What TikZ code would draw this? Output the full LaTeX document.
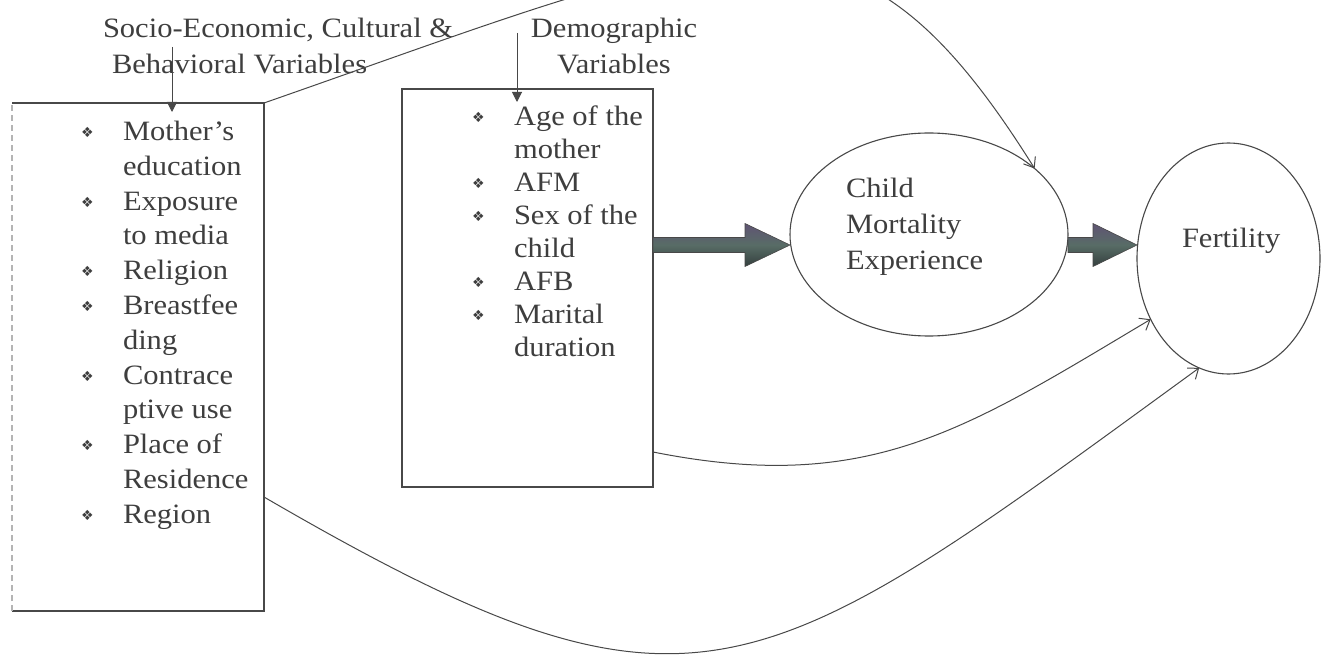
\documentclass[tikz,border=0pt]{standalone}
\usepackage{fontspec}
\setmainfont{Liberation Serif}[FakeStretch=1.09]
\newfontfamily\symf{DejaVu Sans}
\usetikzlibrary{arrows.meta,shapes.geometric,calc}
\definecolor{ink}{RGB}{62,62,62}
\definecolor{edge}{RGB}{72,72,72}
\definecolor{faint}{RGB}{180,180,180}
\definecolor{shtop}{RGB}{96,84,116}
\definecolor{shmid}{RGB}{88,108,102}
\definecolor{shbot}{RGB}{52,64,62}
\newcommand\myitem{\makebox[42pt][l]{\raisebox{3pt}{\symf\fontsize{14}{14}\selectfont ❖}}}
\newcommand\mycont{\hspace*{42pt}}
\begin{document}
\begin{tikzpicture}[x=1pt,y=-1pt,
  every node/.style={inner sep=0pt, outer sep=0pt, text=ink},
  txt/.style={font=\fontsize{28}{36}\selectfont, align=left},
  listA/.style={font=\fontsize{28}{34.8}\selectfont, align=left, anchor=north west},
  listB/.style={font=\fontsize{28}{33}\selectfont, align=left, anchor=north west},
  boxline/.style={draw=edge, line width=1.1pt},
  link/.style={draw=edge, line width=1pt, -{Straight Barb[length=9pt,width=14pt]}},
  headarrow/.style={draw=edge, line width=1pt, -{Triangle[length=10pt,width=10pt]}},
  bigarrow/.style={draw=edge, line width=0.6pt, top color=shtop, bottom color=shbot, middle color=shmid}
]
\useasboundingbox (0,0) rectangle (1328,660);
\clip (0,0) rectangle (1328,660);
\fill[white] (0,0) rectangle (1328,660);

% boxes
\node[draw=none, minimum width=252pt, minimum height=508pt, anchor=north west] (box1) at (12,103) {};
\draw[boxline] (box1.north west) -- (box1.north east) -- (box1.south east) -- (box1.south west);
\draw[draw=faint, line width=1.1pt, dash pattern=on 6pt off 4pt] (box1.south west) -- (box1.north west);
\node[draw=edge, line width=1.1pt, minimum width=251pt, minimum height=398pt, anchor=north west] (box2) at (402,89) {};

% ellipses
\node[ellipse, draw=edge, line width=1.1pt, minimum width=278pt, minimum height=203pt] (mort) at (929,234.5) {};
\node[ellipse, draw=edge, line width=1.1pt, minimum width=183pt, minimum height=231pt] (fert) at (1228.5,258.5) {};

% texts
\node[txt, anchor=north west] (soc) at (103,18) {Socio-Economic, Cultural \&\\\hspace*{9pt}Behavioral Variables};
\node[txt, align=center, anchor=north] (dem) at (614,18) {Demographic\\Variables};
\node[listA] (list1) at (81,121) {\myitem Mother’s\\\mycont education\\\myitem Exposure\\\mycont to media\\\myitem Religion\\\myitem Breastfee\\\mycont ding\\\myitem Contrace\\\mycont ptive use\\\myitem Place of\\\mycont Residence\\\myitem Region};
\node[listB] (list2) at (472,106) {\myitem Age of the\\\mycont mother\\\myitem AFM\\\myitem Sex of the\\\mycont child\\\myitem AFB\\\myitem Marital\\\mycont duration};
\node[txt, anchor=north west] (mtext) at (846,178) {Child\\Mortality\\Experience};
\node[txt, anchor=base west] (ftext) at (1182,248) {Fertility};

% heading arrows
\coordinate (s1) at (172,47);
\draw[headarrow] (s1) -- ($(s1|-box1.north)+(0,9)$);
\coordinate (s2) at (517,33);
\draw[headarrow] (s2) -- ($(s2|-box2.north)+(0,13)$);

% thick arrows
\coordinate (lvl) at (0,245);
\path[bigarrow] ($(box2.east|-lvl)+(0,-7.5)$) -- ($(mort.west|-lvl)+(-45,-7.5)$) -- ($(mort.west|-lvl)+(-45,-21.5)$) -- (mort.west|-lvl) -- ($(mort.west|-lvl)+(-45,21.5)$) -- ($(mort.west|-lvl)+(-45,7.5)$) -- ($(box2.east|-lvl)+(0,7.5)$) -- cycle;
\path[bigarrow] ($(mort.east|-lvl)+(0,-7.5)$) -- ($(fert.west|-lvl)+(-44,-7.5)$) -- ($(fert.west|-lvl)+(-44,-21.5)$) -- (fert.west|-lvl) -- ($(fert.west|-lvl)+(-44,21.5)$) -- ($(fert.west|-lvl)+(-44,7.5)$) -- ($(mort.east|-lvl)+(0,7.5)$) -- cycle;

% curved links
\draw[link] (box1.north east) .. controls (737,-62) and (848,-130) .. (mort.32.7);
\draw[link] ($(box2.south east)+(0,-35)$) .. controls (869,495) and (965,430) .. (fert.218.6);
\draw[link] ($(box1.south east)+(0,-114)$) .. controls (696,748) and (754,692) .. (fert.255.7);
\end{tikzpicture}
\end{document}
